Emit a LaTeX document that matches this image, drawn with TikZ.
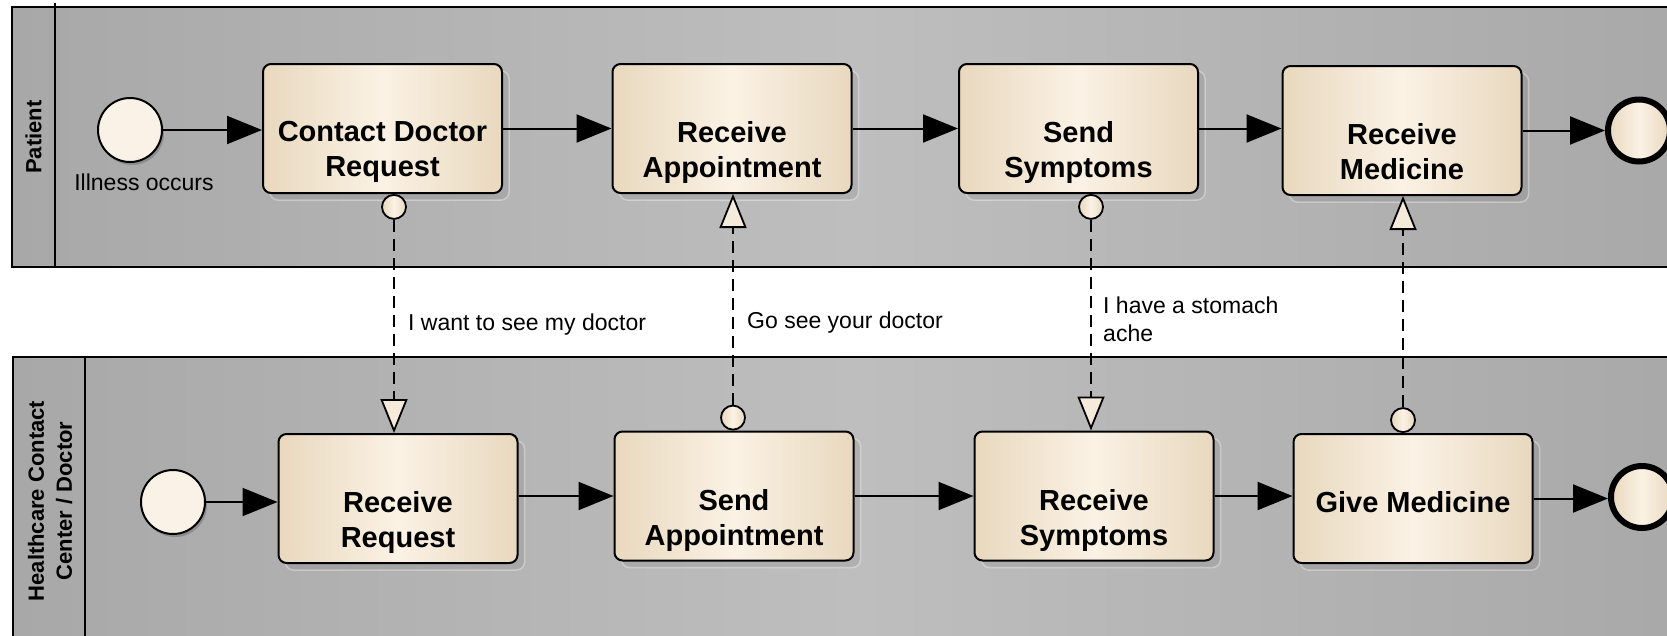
\documentclass[tikz,border=0pt]{standalone}
\usepackage{fontspec}
\setmainfont{Liberation Sans}
\usetikzlibrary{arrows.meta,calc,shadows}

\definecolor{poolEdge}{HTML}{A8A8A8}
\definecolor{poolMid}{HTML}{BEBEBE}
\definecolor{taskEdge}{HTML}{E8D8BE}
\definecolor{taskMid}{HTML}{FBF2E5}
\definecolor{eventFill}{HTML}{FAF2E6}
\definecolor{tipFill}{HTML}{F6EBDA}

\tikzset{
  pool/.style={draw=black, line width=2pt, left color=poolEdge, right color=poolEdge, middle color=poolMid},
  lanediv/.style={draw=black, line width=2pt},
  poollabel/.style={rotate=90, font=\bfseries\fontsize{22}{28}\selectfont, align=center, inner sep=0pt},
  task/.style={rectangle, rounded corners=8pt, draw=black, line width=2pt,
    minimum width=239pt, minimum height=129pt, inner sep=0pt,
    left color=taskEdge, right color=taskEdge, middle color=taskMid,
    general shadow={shadow xshift=7pt, shadow yshift=-7pt, fill=black, fill opacity=0.07,
      draw=white, draw opacity=0.35, line width=1.5pt}},
  tasklabel/.style={anchor=north, align=center, inner sep=0pt, font=\bfseries\fontsize{29}{35}\selectfont},
  startev/.style={circle, draw=black, line width=2pt, fill=eventFill, minimum size=64pt, inner sep=0pt,
    general shadow={shadow xshift=2pt, shadow yshift=-3pt, fill=black!45}},
  endev/.style={circle, draw=black, line width=6pt, minimum size=62pt, inner sep=0pt,
    left color=taskEdge, right color=taskEdge, middle color=taskMid},
  msgdot/.style={circle, draw=black, line width=1.8pt, minimum size=24pt, inner sep=0pt,
    left color=taskEdge, right color=taskEdge, middle color=taskMid},
  seqflow/.style={draw=black, line width=2pt, -{Triangle[length=35pt, width=28pt]}},
  msgflow/.style={draw=black, line width=2pt, dash pattern=on 12pt off 7pt,
    -{Triangle[length=34pt, width=27pt, fill=tipFill, line width=1.8pt]}},
  flowlabel/.style={font=\fontsize{23}{28}\selectfont, inner sep=0pt, align=left},
}

\begin{document}
\begin{tikzpicture}[x=1pt, y=-1pt]
  \useasboundingbox (0,0) rectangle (1667,635);
  \fill[white] (0,0) rectangle (1667,635);
  \clip (0,0) rectangle (1667,635);

  % pools with their header strips
  \path[pool] (12,7) rectangle (1700,267);
  \draw[lanediv] (55,3) -- (55,267);
  \node[poollabel] (p1lab) at (33.5,137) {Patient};

  \path[pool] (13,357) rectangle (1700,690);
  \draw[lanediv] (85,357) -- (85,690);
  \node[poollabel] (p2lab) at (50,501) {Healthcare Contact\\Center / Doctor};

  % patient lane
  \node[startev] (s1) at (130,130) {};
  \node[flowlabel] (s1txt) at (144,182) {Illness occurs};
  \node[task] (t1) at (382.5,128.5) {};
  \node[task] (t2) at (732,128.5) {};
  \node[task] (t3) at (1078.5,128.5) {};
  \node[task] (t4) at (1402,130.5) {};
  \node[endev] (e1) at (1639,130.5) {};
  \node[tasklabel] (t1txt) at ($(t1.center)+(0,-7)$) {Contact Doctor\\Request};
  \node[tasklabel] (t2txt) at ($(t2.center)+(0,-7)$) {Receive\\Appointment};
  \node[tasklabel] (t3txt) at ($(t3.center)+(0,-7)$) {Send\\Symptoms};
  \node[tasklabel] (t4txt) at ($(t4.center)+(0,-7)$) {Receive\\Medicine};

  % healthcare lane
  \node[startev] (s2) at (173,502) {};
  \node[task] (rr) at (398,498.5) {};
  \node[task] (sa) at (734,496) {};
  \node[task] (rs) at (1094,496) {};
  \node[task] (gm) at (1413,498.5) {};
  \node[endev] (e2) at (1642,497) {};
  \node[tasklabel] (rrtxt) at ($(rr.center)+(0,-7)$) {Receive\\Request};
  \node[tasklabel] (satxt) at ($(sa.center)+(0,-7)$) {Send\\Appointment};
  \node[tasklabel] (rstxt) at ($(rs.center)+(0,-7)$) {Receive\\Symptoms};
  \node[tasklabel] (gmtxt) at ($(gm.center)+(0,-7)$) {Give Medicine};

  % sequence flows
  \draw[seqflow] (s1.east) -- (s1.east -| t1.west);
  \draw[seqflow] (t1.east) -- (t2.west);
  \draw[seqflow] (t2.east) -- (t3.west);
  \draw[seqflow] (t3.east) -- (t3.east -| t4.west);
  \draw[seqflow] (t4.east) -- (e1.west);

  \draw[seqflow] (s2.east) -- (s2.east -| rr.west);
  \draw[seqflow] (sa.west -| rr.east) -- (sa.west);
  \draw[seqflow] (sa.east) -- (rs.west);
  \draw[seqflow] (rs.east) -- (rs.east -| gm.west);
  \draw[seqflow] (gm.east) -- (gm.east -| e2.west);

  % message flows between the pools
  \coordinate (mx1) at (394,0);
  \coordinate (mx2) at (733,0);
  \coordinate (mx3) at (1091,0);
  \coordinate (mx4) at (1403,0);

  \node[msgdot, anchor=north] (m1) at (t1.south -| mx1) {};
  \draw[msgflow] (m1.south) -- (m1.south |- rr.north);
  \node[msgdot, anchor=south] (m2) at (sa.north -| mx2) {};
  \draw[msgflow] (m2.north) -- (m2.north |- t2.south);
  \node[msgdot, anchor=north] (m3) at (t3.south -| mx3) {};
  \draw[msgflow] (m3.south) -- (m3.south |- rs.north);
  \node[msgdot, anchor=south] (m4) at (gm.north -| mx4) {};
  \draw[msgflow] (m4.north) -- (m4.north |- t4.south);

  \node[flowlabel, anchor=west] (l1) at (408,325) {I want to see my doctor};
  \node[flowlabel, anchor=west] (l2) at (747,323) {Go see your doctor};
  \node[flowlabel, anchor=north west] (l3) at (1103,297) {I have a stomach\\ache};
\end{tikzpicture}
\end{document}
